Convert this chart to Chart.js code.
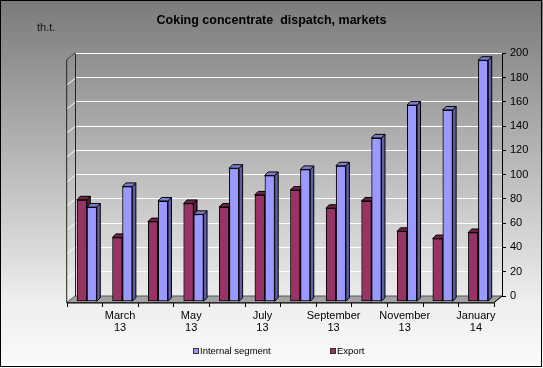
<!DOCTYPE html>
<html>
<head>
<meta charset="utf-8">
<script src="https://cdn.jsdelivr.net/npm/chart.js@4.4.0/dist/chart.umd.min.js"></script>
<style>
  html, body { margin: 0; padding: 0; background: #fff; }
  #wrap { width: 543px; height: 368px; }
</style>
</head>
<body>
<div id="wrap"><canvas id="chart" width="543" height="368"></canvas></div>
<script>
// Monthly dispatch, thousand tonnes
const monthLabels = [
    ['February', '13'], ['March', '13'], ['April', '13'], ['May', '13'],
    ['June', '13'], ['July', '13'], ['August', '13'], ['September', '13'],
    ['October', '13'], ['November', '13'], ['December', '13'], ['January', '14']
];
const exportValues = [84, 53, 66, 81, 78, 88, 92, 77, 83, 58, 52, 57];
const internalValues = [78, 95, 83, 72, 110, 104, 109, 112, 135, 162, 158, 199];

const FONT = "Arial, 'Liberation Sans', sans-serif";
const WALL_DX = -8.3, WALL_DY = 6.5;  // back wall -> front edge
const BAR_DX = -6, BAR_DY = 5.7;      // where the bars sit in depth
const DEPTH = 3.5;                    // bar side / top thickness

const faceColors = [
    { side: '#5e1a3b', top: '#6e2247' },  // Export
    { side: '#5f5fa6', top: '#7f7fd2' }   // Internal segment
];

function drawBarDepth(ctx, bar, colors) {
    const half = bar.width / 2;
    const l = bar.x - half, r = bar.x + half, t = bar.y, b = bar.base;
    ctx.lineWidth = 1;
    ctx.strokeStyle = '#000';
    // right side
    ctx.beginPath();
    ctx.moveTo(r, t);
    ctx.lineTo(r + DEPTH, t - DEPTH);
    ctx.lineTo(r + DEPTH, b - DEPTH);
    ctx.lineTo(r, b);
    ctx.closePath();
    ctx.fillStyle = colors.side;
    ctx.fill();
    ctx.stroke();
    // top
    ctx.beginPath();
    ctx.moveTo(l, t);
    ctx.lineTo(l + DEPTH, t - DEPTH);
    ctx.lineTo(r + DEPTH, t - DEPTH);
    ctx.lineTo(r, t);
    ctx.closePath();
    ctx.fillStyle = colors.top;
    ctx.fill();
    ctx.stroke();
}

const excelLook = {
    id: 'excelLook',
    beforeDraw(chart) {
        const { ctx, width, height } = chart;
        const g = ctx.createLinearGradient(0, 0, 0, height);
        g.addColorStop(0, '#7a7a7a');
        g.addColorStop(0.82, '#eeeeee');
        g.addColorStop(1, '#fbfbfb');
        ctx.save();
        ctx.fillStyle = g;
        ctx.fillRect(0, 0, width, height);
        ctx.restore();
    },
    beforeDatasetsDraw(chart) {
        const { ctx, chartArea: a, scales: { y } } = chart;
        ctx.save();
        // gridlines continued on the left side wall
        ctx.strokeStyle = '#fff';
        ctx.lineWidth = 1;
        y.ticks.forEach(t => {
            const py = Math.round(y.getPixelForValue(t.value)) + 0.5;
            ctx.beginPath();
            ctx.moveTo(a.left + WALL_DX, py + WALL_DY);
            ctx.lineTo(a.left, py);
            ctx.stroke();
        });
        // floor
        ctx.beginPath();
        ctx.moveTo(a.left + WALL_DX, a.bottom + WALL_DY);
        ctx.lineTo(a.left, a.bottom);
        ctx.lineTo(a.right, a.bottom);
        ctx.lineTo(a.right + WALL_DX, a.bottom + WALL_DY);
        ctx.closePath();
        ctx.fillStyle = '#a2a2a2';
        ctx.fill();
        ctx.strokeStyle = '#555';
        ctx.stroke();
        // wall edges
        ctx.strokeStyle = '#222';
        ctx.beginPath();
        ctx.moveTo(a.left + WALL_DX, a.bottom + WALL_DY);
        ctx.lineTo(a.left + WALL_DX, a.top + WALL_DY);
        ctx.lineTo(a.left, a.top);
        ctx.moveTo(a.left + 0.5, a.top);
        ctx.lineTo(a.left + 0.5, a.bottom);
        ctx.stroke();
        ctx.restore();
        ctx.save();
        ctx.translate(BAR_DX, BAR_DY);
    },
    afterDatasetsDraw(chart) {
        const { ctx } = chart;
        // redraw left to right so each bar hides the side of its neighbour
        chart.data.datasets.forEach((ds, i) => {
            chart.getDatasetMeta(i).data.forEach(bar => {
                bar.draw(ctx);
                drawBarDepth(ctx, bar, faceColors[i]);
            });
        });
        ctx.restore();
    },
    afterDraw(chart) {
        const { ctx, chartArea: a } = chart;
        ctx.save();
        // category axis along the front edge
        const fy = a.bottom + WALL_DY + 0.5;
        ctx.strokeStyle = '#000';
        ctx.lineWidth = 1;
        ctx.beginPath();
        ctx.moveTo(a.left + WALL_DX, fy);
        ctx.lineTo(a.right + WALL_DX, fy);
        ctx.lineTo(a.right, a.bottom);
        const step = (a.right - a.left) / monthLabels.length;
        for (let k = 0; k <= monthLabels.length; k++) {
            const px = Math.round(a.left + WALL_DX + k * step) + 0.5;
            ctx.moveTo(px, fy);
            ctx.lineTo(px, fy + 4);
        }
        ctx.stroke();

        // legend
        const items = [
            { text: chart.data.datasets[1].label, color: chart.data.datasets[1].backgroundColor, x: 193 },
            { text: chart.data.datasets[0].label, color: chart.data.datasets[0].backgroundColor, x: 330 }
        ];
        ctx.font = '9.5px ' + FONT;
        ctx.textBaseline = 'middle';
        ctx.textAlign = 'left';
        items.forEach(it => {
            ctx.fillStyle = it.color;
            ctx.fillRect(it.x, 348, 6, 6);
            ctx.strokeStyle = '#333';
            ctx.strokeRect(it.x + 0.5, 348.5, 5, 5);
            ctx.fillStyle = '#000';
            ctx.fillText(it.text, it.x + 7, 351.5);
        });

        // unit label
        ctx.font = '11px ' + FONT;
        ctx.fillStyle = '#111';
        ctx.fillText('th.t.', 37, 28);

        // frame
        ctx.strokeStyle = '#000';
        ctx.strokeRect(0.5, 0.5, 541, 366);
        ctx.restore();
    }
};

const ctx = document.getElementById('chart').getContext('2d');
// eslint-disable-next-line no-undef
const chart = new Chart(ctx, {
    type: 'bar',
    data: {
        labels: monthLabels,
        datasets: [{
            label: 'Export',
            data: exportValues,
            backgroundColor: '#993366',
            borderColor: '#000',
            borderWidth: 1,
            borderSkipped: false,
            categoryPercentage: 0.562,
            barPercentage: 1.0
        }, {
            label: 'Internal segment',
            data: internalValues,
            backgroundColor: '#9999ff',
            borderColor: '#000',
            borderWidth: 1,
            borderSkipped: false,
            categoryPercentage: 0.562,
            barPercentage: 1.0
        }]
    },
    options: {
        responsive: false,
        animation: false,
        devicePixelRatio: 1,
        layout: { padding: 0 },
        scales: {
            x: {
                grid: { display: false, drawTicks: false },
                border: { display: false },
                ticks: {
                    autoSkip: false,
                    maxRotation: 0,
                    minRotation: 0,
                    color: '#000',
                    font: { family: FONT, size: 11, lineHeight: 1.1 },
                    padding: 14,
                    labelOffset: -8.3,
                    callback: (v, i) => (i % 2 === 1 ? monthLabels[i] : '')
                },
                afterFit: s => { s.height = 72; }
            },
            y: {
                position: 'right',
                min: 0,
                max: 200,
                ticks: {
                    stepSize: 20,
                    color: '#000',
                    font: { family: FONT, size: 11 },
                    padding: 4
                },
                grid: { color: '#ffffff', lineWidth: 1, tickColor: '#000', tickLength: 4 },
                border: { display: true, color: '#000', width: 1 },
                afterFit: s => { s.width = 41; }
            },
            // empty left axis, only reserves the space left of the plot
            leftSpace: {
                axis: 'y',
                position: 'left',
                grid: { display: false, drawTicks: false },
                border: { display: false },
                ticks: { display: false },
                afterFit: s => { s.width = 75; }
            }
        },
        plugins: {
            legend: { display: false },
            tooltip: { enabled: false },
            title: {
                display: true,
                text: 'Coking concentrate  dispatch, markets',
                color: '#000',
                font: { family: FONT, size: 12.5, weight: 'bold' },
                padding: { top: 13, bottom: 25.3 }
            }
        }
    },
    plugins: [excelLook]
});
</script>
</body>
</html>
